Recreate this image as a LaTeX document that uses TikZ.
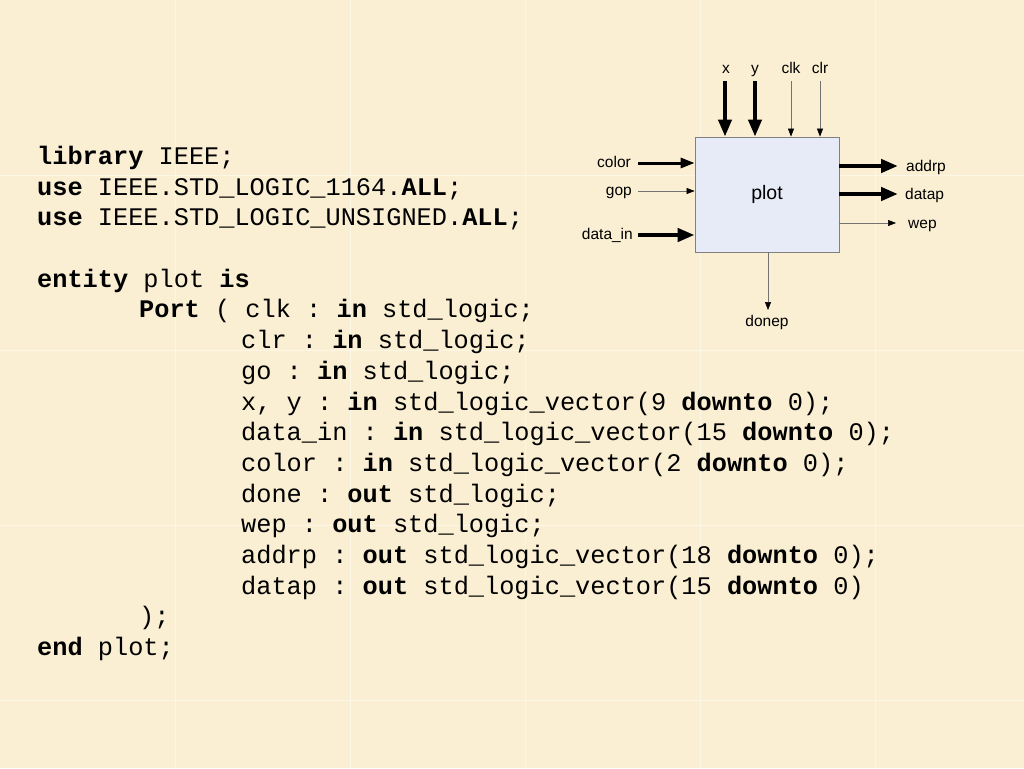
\documentclass[tikz,border=0pt]{standalone}
\usepackage{fontspec}
\setmonofont{Liberation Mono}
\setsansfont{Liberation Sans}
\usetikzlibrary{arrows.meta}
\definecolor{parch}{HTML}{FAEFD3}
\definecolor{boxfill}{HTML}{E7EAF7}
\begin{document}
\begin{tikzpicture}[x=1pt,y=-1pt,
  code/.style={anchor=base west,inner sep=0pt,font=\ttfamily\fontsize{25.3}{30}\selectfont},
  lbl/.style={inner sep=0pt,font=\sffamily\fontsize{15.5}{17}\selectfont},
  thick arrow/.style={line width=4.5pt,-{Triangle[length=17pt,width=13pt]}},
  thin arrow/.style={line width=0.6pt,draw=black!55,-{Triangle[length=8pt,width=6pt,fill=black,color=black]}},
]
\fill[parch] (0,0) rectangle (1024,768);
\useasboundingbox (0,0) rectangle (1024,768);
\foreach \s in {175,350,525,700,875}{
  \draw[white,opacity=0.45,line width=1pt] (\s,0) -- (\s,768);
}
\foreach \s in {175,350,525,700}{
  \draw[white,opacity=0.45,line width=1pt] (0,\s) -- (1024,\s);
}
% code
\def\ly#1{164.5+#1*30.69}
\node[code] (c1) at (37,{\ly{0}}) {\textbf{library} IEEE;};
\node[code] (c2) at (37,{\ly{1}}) {\textbf{use} IEEE.STD\_LOGIC\_1164.\textbf{ALL};};
\node[code] (c3) at (37,{\ly{2}}) {\textbf{use} IEEE.STD\_LOGIC\_UNSIGNED.\textbf{ALL};};
\node[code] (c5) at (37,{\ly{4}}) {\textbf{entity} plot \textbf{is}};
\node[code] (c6) at (139,{\ly{5}}) {\textbf{Port} ( clk : \textbf{in} std\_logic;};
\node[code] (c7) at (241,{\ly{6}}) {clr : \textbf{in} std\_logic;};
\node[code] (c8) at (241,{\ly{7}}) {go : \textbf{in} std\_logic;};
\node[code] (c9) at (241,{\ly{8}}) {x, y : \textbf{in} std\_logic\_vector(9 \textbf{downto} 0);};
\node[code] (c10) at (241,{\ly{9}}) {data\_in : \textbf{in} std\_logic\_vector(15 \textbf{downto} 0);};
\node[code] (c11) at (241,{\ly{10}}) {color : \textbf{in} std\_logic\_vector(2 \textbf{downto} 0);};
\node[code] (c12) at (241,{\ly{11}}) {done : \textbf{out} std\_logic;};
\node[code] (c13) at (241,{\ly{12}}) {wep : \textbf{out} std\_logic;};
\node[code] (c14) at (241,{\ly{13}}) {addrp : \textbf{out} std\_logic\_vector(18 \textbf{downto} 0);};
\node[code] (c15) at (241,{\ly{14}}) {datap : \textbf{out} std\_logic\_vector(15 \textbf{downto} 0)};
\node[code] (c16) at (139,{\ly{15}}) {);};
\node[code] (c17) at (37,{\ly{16}}) {\textbf{end} plot;};
% block
\node[draw=black!50,fill=boxfill,line width=0.8pt,minimum width=144pt,minimum height=115pt,inner sep=0pt,
  font=\sffamily\fontsize{19.5}{21}\selectfont] (plot) at (767,194.5) {plot};
% top inputs
\node[lbl,anchor=base] (lx) at (726,73) {x};
\node[lbl,anchor=base] (ly) at (755,73) {y};
\node[lbl,anchor=base] (lclk) at (791,73) {clk};
\node[lbl,anchor=base] (lclr) at (820,73) {clr};
\coordinate (tx) at (725,81); \coordinate (ty) at (755,81);
\coordinate (tclk) at (791,81); \coordinate (tclr) at (820,81);
\draw[thick arrow,line width=4pt] (tx) -- (tx |- plot.north);
\draw[thick arrow,line width=4pt] (ty) -- (ty |- plot.north);
\draw[thin arrow] (tclk) -- (tclk |- plot.north);
\draw[thin arrow] (tclr) -- (tclr |- plot.north);
% left inputs
\node[lbl,anchor=base east] (lcolor) at (631,167) {color};
\node[lbl,anchor=base east] (lgop) at (632,195.5) {gop};
\node[lbl,anchor=base east] (ldata) at (633,239.5) {data\_in};
\coordinate (scolor) at (638,163); \coordinate (sgop) at (638,191); \coordinate (sdata) at (638,235);
\draw[line width=3pt,-{Triangle[length=14pt,width=10pt]}] (scolor) -- (scolor -| plot.west);
\draw[thin arrow] (sgop) -- (sgop -| plot.west);
\draw[thick arrow] (sdata) -- (sdata -| plot.west);
% right outputs
\node[lbl,anchor=base west] (laddr) at (906,171) {addrp};
\node[lbl,anchor=base west] (ldatap) at (905,199) {datap};
\node[lbl,anchor=base west] (lwep) at (908,228) {wep};
\coordinate (eaddr) at (898,166); \coordinate (edatap) at (898,194); \coordinate (ewep) at (896,223);
\draw[thick arrow] (eaddr -| plot.east) -- (eaddr);
\draw[thick arrow] (edatap -| plot.east) -- (edatap);
\draw[thin arrow] (ewep -| plot.east) -- (ewep);
% bottom output
\coordinate (edone) at (768,310);
\node[lbl,anchor=base] (ldone) at (767,326) {donep};
\draw[thin arrow] (edone |- plot.south) -- (edone);
\end{tikzpicture}
\end{document}
